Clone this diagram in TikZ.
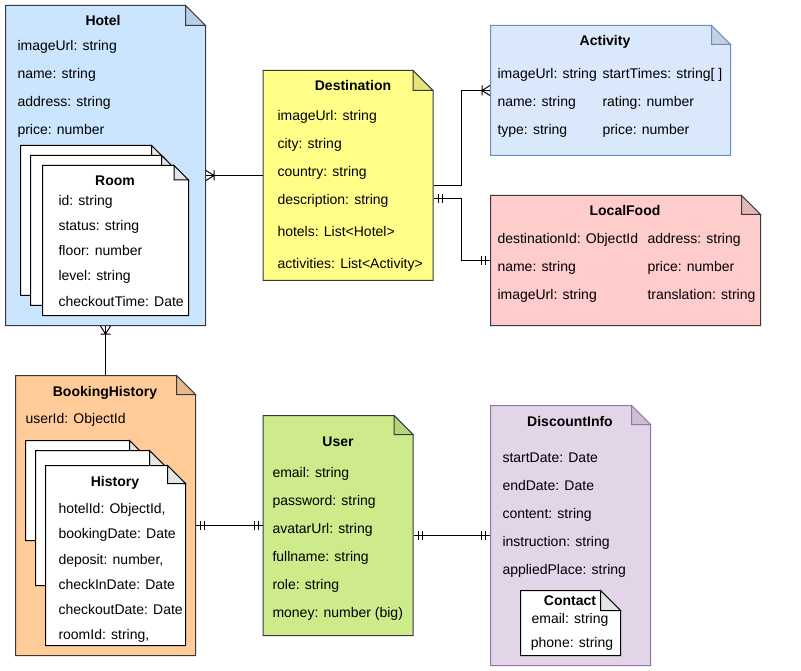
\documentclass[tikz,border=0pt]{standalone}
\usepackage{fontspec}
\setmainfont{Liberation Sans}
\usetikzlibrary{positioning,fit}

\definecolor{hotelfill}{HTML}{CCE5FF}
\definecolor{destfill}{HTML}{FFFF88}
\definecolor{actfill}{HTML}{DAE8FC}
\definecolor{actline}{HTML}{6C8EBF}
\definecolor{foodfill}{HTML}{FFCCCC}
\definecolor{bookfill}{HTML}{FFCC99}
\definecolor{userfill}{HTML}{CDEB8B}
\definecolor{discfill}{HTML}{E1D5E7}
\definecolor{discline}{HTML}{9673A6}
\definecolor{darkline}{HTML}{36393D}

\newcommand{\erfont}{\fontsize{14}{17}\selectfont}

% ER markers
\pgfdeclarearrow{
  name = ERmandOne,
  setup code = {
    \pgfarrowssettipend{0pt}
    \pgfarrowssetlineend{0pt}
    \pgfarrowssetbackend{-9pt}
    \pgfarrowsupperhullpoint{0pt}{4.5pt}
    \pgfarrowsupperhullpoint{-9pt}{4.5pt}
  },
  drawing code = {
    \pgfpathmoveto{\pgfqpoint{-4.5pt}{-4.5pt}}
    \pgfpathlineto{\pgfqpoint{-4.5pt}{4.5pt}}
    \pgfpathmoveto{\pgfqpoint{-8.5pt}{-4.5pt}}
    \pgfpathlineto{\pgfqpoint{-8.5pt}{4.5pt}}
    \pgfusepathqstroke
  },
}
\pgfdeclarearrow{
  name = ERmany,
  setup code = {
    \pgfarrowssettipend{0pt}
    \pgfarrowssetlineend{0pt}
    \pgfarrowssetbackend{-9pt}
    \pgfarrowsupperhullpoint{0pt}{5pt}
    \pgfarrowsupperhullpoint{-9pt}{5pt}
  },
  drawing code = {
    \pgfpathmoveto{\pgfqpoint{0pt}{5pt}}
    \pgfpathlineto{\pgfqpoint{-8pt}{0pt}}
    \pgfpathlineto{\pgfqpoint{0pt}{-5pt}}
    \pgfpathmoveto{\pgfqpoint{-8pt}{-5pt}}
    \pgfpathlineto{\pgfqpoint{-8pt}{5pt}}
    \pgfusepathqstroke
  },
}

% name, x1, y1, x2, y2, fold, fill, line
\newcommand{\notebox}[8]{
  \draw[draw=#8, fill=#7] (#2,#3) -- (#4-#6,#3) -- (#4,#3+#6) -- (#4,#5) -- (#2,#5) -- cycle;
  \draw[draw=#8, fill=#7!90!black] (#4-#6,#3) -- (#4-#6,#3+#6) -- (#4,#3+#6) -- cycle;
  \path (#2,#3) coordinate (#1-nw) (#4,#5) coordinate (#1-se);
  \node[fit=(#1-nw)(#1-se), inner sep=0pt] (#1) {};
}

\tikzset{
  field/.style={anchor=west, inner sep=0pt, text height=15pt, text depth=3pt, font=\erfont},
  title/.style={inner sep=0pt, text height=15pt, text depth=3pt, font=\erfont\bfseries},
  conn/.style={draw=black, line width=1pt},
}

\begin{document}
\begin{tikzpicture}[x=1pt, y=-1pt, line width=1pt]
  \fill[white] (0,0) rectangle (801,671);
  \useasboundingbox (0,0) rectangle (801,671);

  \notebox{hotel}{5.5}{5.5}{205.5}{325.5}{20}{hotelfill}{darkline}
  \notebox{dest}{263}{70.5}{433}{280.5}{20}{destfill}{darkline}
  \notebox{act}{490.5}{25.5}{730.5}{155.5}{19}{actfill}{actline}
  \notebox{food}{490.5}{195.5}{760.5}{325.5}{19}{foodfill}{darkline}
  \notebox{book}{15.5}{375.5}{195.5}{655.5}{19}{bookfill}{darkline}
  \notebox{user}{263}{415.5}{413}{635.5}{19}{userfill}{darkline}
  \notebox{disc}{490.5}{405.5}{650.5}{665.5}{19}{discfill}{discline}

  \notebox{roomback}{20.5}{145.5}{166}{295.5}{14.5}{white}{black}
  \notebox{roommid}{30.5}{155.5}{176}{305.5}{14.5}{white}{black}
  \notebox{room}{42.5}{165.5}{188.5}{315.5}{14.5}{white}{black}

  \notebox{histback}{25.5}{440.5}{147.5}{540.5}{18}{white}{black}
  \notebox{histmid}{35.5}{450.5}{167.5}{585.5}{18}{white}{black}
  \notebox{hist}{45.5}{465.5}{185.5}{645.5}{18}{white}{black}

  \notebox{contact}{520.5}{590.5}{620.5}{655.5}{20}{white}{black}

  % titles
  \node[title] (hotel-t) at (103,20) {Hotel};
  \node[title] (room-t) at (115,180) {Room};
  \node[title] (dest-t) at (353,85) {Destination};
  \node[title] (act-t) at (605,40) {Activity};
  \node[title] (food-t) at (625,210) {LocalFood};
  \node[title] (book-t) at (105,390) {BookingHistory};
  \node[title] (hist-t) at (115,480) {History};
  \node[title] (user-t) at (338,440) {User};
  \node[title] (disc-t) at (570,420) {DiscountInfo};
  \node[title] (contact-t) at (570,599) {Contact};

  % fields
  \foreach \t [count=\i] in {imageUrl: string, name: string, address: string, price: number}
    \node[field] (hotel-\i) at (17,17+28*\i) {\t};
  \foreach \t [count=\i] in {id: string, status: string, floor: number, level: string, checkoutTime: Date}
    \node[field] (room-\i) at (58,175+25*\i) {\t};
  \foreach \y/\t [count=\i] in {115/imageUrl: string, 143/city: string, 171/country: string,
      199/description: string, 231/hotels: List<Hotel>, 263/activities: List<Activity>}
    \node[field] (dest-\i) at (277,\y) {\t};
  \foreach \a/\b [count=\i] in {imageUrl: string/{startTimes: string[ ]}, name: string/rating: number,
      type: string/price: number} {
    \node[field] (act-\i) at (497,45+28*\i) {\a};
    \node[field] (act-r\i) at (602,45+28*\i) {\b};
  }
  \foreach \a/\b [count=\i] in {destinationId: ObjectId/address: string, name: string/price: number,
      imageUrl: string/translation: string} {
    \node[field] (food-\i) at (497,210+28*\i) {\a};
    \node[field] (food-r\i) at (647,210+28*\i) {\b};
  }
  \node[field] (book-1) at (25,417) {userId: ObjectId};
  \foreach \y/\t [count=\i] in {507/{hotelId: ObjectId,}, 532/bookingDate: Date, 558/{deposit: number,},
      583/checkInDate: Date, 608/checkoutDate: Date, 633/{roomId: string,}}
    \node[field] (hist-\i) at (58,\y) {\t};
  \foreach \t [count=\i] in {email: string, password: string, avatarUrl: string, fullname: string,
      role: string, money: number (big)}
    \node[field] (user-\i) at (272,443+28*\i) {\t};
  \foreach \t [count=\i] in {startDate: Date, endDate: Date, content: string, instruction: string,
      appliedPlace: string}
    \node[field] (disc-\i) at (502,428+28*\i) {\t};
  \node[field, anchor=center] (contact-1) at (570,617) {email: string};
  \node[field, anchor=center] (contact-2) at (572,641) {phone: string};

  % relations
  \draw[conn, ERmany-] (dest.west -| hotel.east) -- (dest.west);
  \draw[conn, -ERmany] ([yshift=-10pt]dest.east) -- ++(28,0) |- (act.west);
  \draw[conn, ERmandOne-ERmandOne] ([yshift=-23pt]dest.east) -- ++(28,0) |- (food.west);
  \draw[conn, ERmany-] (hotel.south) -- (book.north);
  \draw[conn, ERmandOne-ERmandOne] (user.west -| book.east) -- (user.west);
  \draw[conn, ERmandOne-ERmandOne] (disc.west -| user.east) -- (disc.west);
\end{tikzpicture}
\end{document}
